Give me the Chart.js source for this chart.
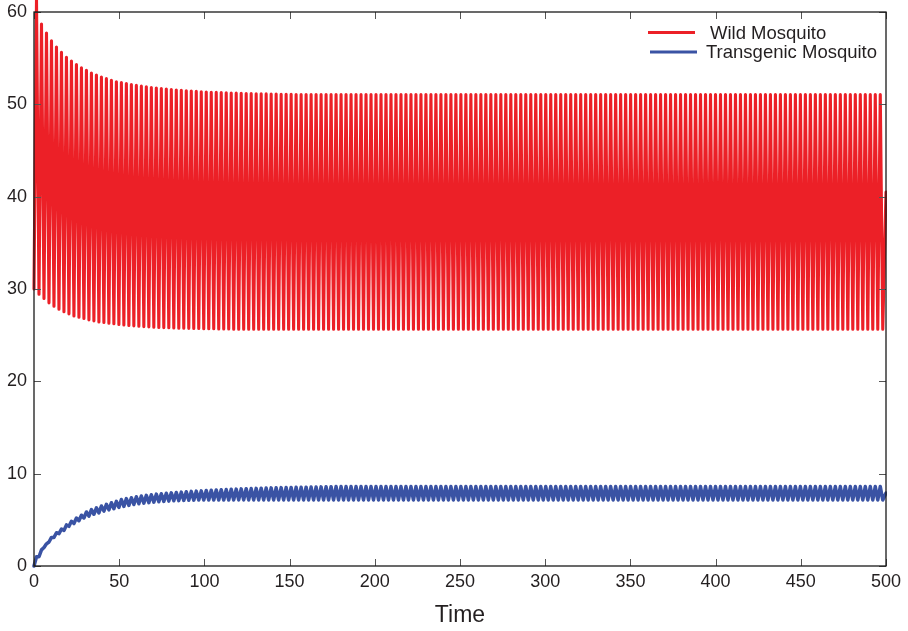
<!DOCTYPE html>
<html>
<head>
<meta charset="utf-8">
<script src="https://cdn.jsdelivr.net/npm/chart.js@4.4.0/dist/chart.umd.min.js"></script>
<style>
  html, body { margin: 0; padding: 0; background: #fff; }
  #chart { display: block; }
</style>
</head>
<body>
<canvas id="chart" width="908" height="631"></canvas>
<script>
// one oscillation cycle of the model (~170 cycles over 0..500)
const period = 2.93;

const xTicks = [0, 50, 100, 150, 200, 250, 300, 350, 400, 450, 500];
const yTicks = [0, 10, 20, 30, 40, 50, 60];

// wild mosquito: trough and peak of every cycle
const wildTroughs = [
  30.0, 29.43, 28.97, 28.5, 28.14, 27.81, 27.53, 27.31, 27.09, 26.94,
  26.8, 26.66, 26.55, 26.44, 26.37, 26.29, 26.23, 26.15, 26.1, 26.05,
  26.01, 25.97, 25.93, 25.9, 25.87, 25.84, 25.82, 25.8, 25.78, 25.76,
  25.75, 25.74, 25.73, 25.72, 25.71, 25.7, 25.69, 25.68, 25.67, 25.66,
  25.65, 25.65, 25.65, 25.65, 25.65, 25.65, 25.65, 25.65, 25.65, 25.65,
  25.65, 25.65, 25.65, 25.65, 25.65, 25.65, 25.65, 25.65, 25.65, 25.65,
  25.65, 25.65, 25.65, 25.65, 25.65, 25.65, 25.65, 25.65, 25.65, 25.65,
  25.65, 25.65, 25.65, 25.65, 25.65, 25.65, 25.65, 25.65, 25.65, 25.65,
  25.65, 25.65, 25.65, 25.65, 25.65, 25.65, 25.65, 25.65, 25.65, 25.65,
  25.65, 25.65, 25.65, 25.65, 25.65, 25.65, 25.65, 25.65, 25.65, 25.65,
  25.65, 25.65, 25.65, 25.65, 25.65, 25.65, 25.65, 25.65, 25.65, 25.65,
  25.65, 25.65, 25.65, 25.65, 25.65, 25.65, 25.65, 25.65, 25.65, 25.65,
  25.65, 25.65, 25.65, 25.65, 25.65, 25.65, 25.65, 25.65, 25.65, 25.65,
  25.65, 25.65, 25.65, 25.65, 25.65, 25.65, 25.65, 25.65, 25.65, 25.65,
  25.65, 25.65, 25.65, 25.65, 25.65, 25.65, 25.65, 25.65, 25.65, 25.65,
  25.65, 25.65, 25.65, 25.65, 25.65, 25.65, 25.65, 25.65, 25.65, 25.65,
  25.65, 25.65, 25.65, 25.65, 25.65, 25.65, 25.65, 25.65, 25.65, 25.65,
  25.65
];
const wildPeaks = [
  61.3, 58.7, 57.72, 56.89, 56.2, 55.63, 55.09, 54.69, 54.3, 53.97,
  53.68, 53.39, 53.18, 52.96, 52.78, 52.6, 52.45, 52.35, 52.25, 52.15,
  52.05, 51.97, 51.9, 51.83, 51.77, 51.71, 51.65, 51.6, 51.55, 51.51,
  51.47, 51.43, 51.4, 51.37, 51.34, 51.31, 51.29, 51.27, 51.25, 51.23,
  51.21, 51.19, 51.18, 51.16, 51.15, 51.14, 51.13, 51.12, 51.11, 51.1,
  51.09, 51.08, 51.07, 51.06, 51.05, 51.05, 51.05, 51.05, 51.05, 51.05,
  51.05, 51.05, 51.05, 51.05, 51.05, 51.05, 51.05, 51.05, 51.05, 51.05,
  51.05, 51.05, 51.05, 51.05, 51.05, 51.05, 51.05, 51.05, 51.05, 51.05,
  51.05, 51.05, 51.05, 51.05, 51.05, 51.05, 51.05, 51.05, 51.05, 51.05,
  51.05, 51.05, 51.05, 51.05, 51.05, 51.05, 51.05, 51.05, 51.05, 51.05,
  51.05, 51.05, 51.05, 51.05, 51.05, 51.05, 51.05, 51.05, 51.05, 51.05,
  51.05, 51.05, 51.05, 51.05, 51.05, 51.05, 51.05, 51.05, 51.05, 51.05,
  51.05, 51.05, 51.05, 51.05, 51.05, 51.05, 51.05, 51.05, 51.05, 51.05,
  51.05, 51.05, 51.05, 51.05, 51.05, 51.05, 51.05, 51.05, 51.05, 51.05,
  51.05, 51.05, 51.05, 51.05, 51.05, 51.05, 51.05, 51.05, 51.05, 51.05,
  51.05, 51.05, 51.05, 51.05, 51.05, 51.05, 51.05, 51.05, 51.05, 51.05,
  51.05, 51.05, 51.05, 51.05, 51.05, 51.05, 51.05, 51.05, 51.05, 51.05
];
const wildEnd = 40.5;

// transgenic mosquito: trough and peak of every cycle
const transTroughs = [
  0, 1.0, 2.0, 2.6, 3.1, 3.5, 3.85, 4.3, 4.6, 4.9,
  5.2, 5.4, 5.6, 5.75, 5.95, 6.08, 6.2, 6.35, 6.46, 6.56,
  6.66, 6.74, 6.8, 6.86, 6.92, 6.96, 7.0, 7.03, 7.06, 7.08,
  7.1, 7.12, 7.13, 7.14, 7.15, 7.15, 7.15, 7.15, 7.15, 7.15,
  7.15, 7.15, 7.15, 7.15, 7.15, 7.15, 7.15, 7.15, 7.15, 7.15,
  7.15, 7.15, 7.15, 7.15, 7.15, 7.15, 7.15, 7.15, 7.15, 7.15,
  7.15, 7.15, 7.15, 7.15, 7.15, 7.15, 7.15, 7.15, 7.15, 7.15,
  7.15, 7.15, 7.15, 7.15, 7.15, 7.15, 7.15, 7.15, 7.15, 7.15,
  7.15, 7.15, 7.15, 7.15, 7.15, 7.15, 7.15, 7.15, 7.15, 7.15,
  7.15, 7.15, 7.15, 7.15, 7.15, 7.15, 7.15, 7.15, 7.15, 7.15,
  7.15, 7.15, 7.15, 7.15, 7.15, 7.15, 7.15, 7.15, 7.15, 7.15,
  7.15, 7.15, 7.15, 7.15, 7.15, 7.15, 7.15, 7.15, 7.15, 7.15,
  7.15, 7.15, 7.15, 7.15, 7.15, 7.15, 7.15, 7.15, 7.15, 7.15,
  7.15, 7.15, 7.15, 7.15, 7.15, 7.15, 7.15, 7.15, 7.15, 7.15,
  7.15, 7.15, 7.15, 7.15, 7.15, 7.15, 7.15, 7.15, 7.15, 7.15,
  7.15, 7.15, 7.15, 7.15, 7.15, 7.15, 7.15, 7.15, 7.15, 7.15,
  7.15, 7.15, 7.15, 7.15, 7.15, 7.15, 7.15, 7.15, 7.15, 7.15,
  7.15
];
const transPeaks = [
  1.0, 1.75, 2.4, 3.1, 3.6, 4.0, 4.45, 4.85, 5.2, 5.5,
  5.85, 6.1, 6.3, 6.5, 6.68, 6.85, 7.0, 7.2, 7.3, 7.4,
  7.5, 7.58, 7.65, 7.72, 7.78, 7.83, 7.88, 7.92, 7.96, 8.0,
  8.05, 8.08, 8.11, 8.14, 8.17, 8.2, 8.23, 8.26, 8.28, 8.31,
  8.33, 8.35, 8.37, 8.39, 8.41, 8.43, 8.44, 8.46, 8.47, 8.49,
  8.5, 8.51, 8.52, 8.53, 8.54, 8.55, 8.56, 8.57, 8.58, 8.59,
  8.6, 8.6, 8.6, 8.6, 8.6, 8.6, 8.6, 8.6, 8.6, 8.6,
  8.6, 8.6, 8.6, 8.6, 8.6, 8.6, 8.6, 8.6, 8.6, 8.6,
  8.6, 8.6, 8.6, 8.6, 8.6, 8.6, 8.6, 8.6, 8.6, 8.6,
  8.6, 8.6, 8.6, 8.6, 8.6, 8.6, 8.6, 8.6, 8.6, 8.6,
  8.6, 8.6, 8.6, 8.6, 8.6, 8.6, 8.6, 8.6, 8.6, 8.6,
  8.6, 8.6, 8.6, 8.6, 8.6, 8.6, 8.6, 8.6, 8.6, 8.6,
  8.6, 8.6, 8.6, 8.6, 8.6, 8.6, 8.6, 8.6, 8.6, 8.6,
  8.6, 8.6, 8.6, 8.6, 8.6, 8.6, 8.6, 8.6, 8.6, 8.6,
  8.6, 8.6, 8.6, 8.6, 8.6, 8.6, 8.6, 8.6, 8.6, 8.6,
  8.6, 8.6, 8.6, 8.6, 8.6, 8.6, 8.6, 8.6, 8.6, 8.6,
  8.6, 8.6, 8.6, 8.6, 8.6, 8.6, 8.6, 8.6, 8.6, 8.6
];
const transEnd = 7.9;

const seriesLabels = ["Wild Mosquito", "Transgenic Mosquito"];
const seriesColors = ["#ec2027", "#3a53a4"];

const FONT = "'Liberation Sans', Arial, Helvetica, sans-serif";
const INK = "#231f20";

// trough, peak, trough, peak ... then the value at t = 500
function cyclePoints(troughs, peaks, endValue) {
    const pts = [];
    troughs.forEach((v, j) => {
        pts.push({ x: j * period, y: v });
        if (j < peaks.length) pts.push({ x: j * period + period / 2, y: peaks[j] });
    });
    pts.push({ x: 500, y: endValue });
    return pts;
}

// MATLAB style box with inward ticks on all four sides
const boxPlugin = {
    id: "box",
    afterDatasetsDraw(chart) {
        const { ctx, chartArea: a, scales: { x, y } } = chart;
        ctx.save();
        ctx.strokeStyle = "#555";
        ctx.lineWidth = 1;
        ctx.beginPath();
        xTicks.forEach(v => {
            const px = Math.round(x.getPixelForValue(v)) + 0.5;
            ctx.moveTo(px, a.bottom); ctx.lineTo(px, a.bottom - 7);
            ctx.moveTo(px, a.top); ctx.lineTo(px, a.top + 7);
        });
        yTicks.forEach(v => {
            const py = Math.round(y.getPixelForValue(v)) + 0.5;
            ctx.moveTo(a.left, py); ctx.lineTo(a.left + 7, py);
            ctx.moveTo(a.right, py); ctx.lineTo(a.right - 7, py);
        });
        ctx.stroke();
        ctx.strokeStyle = "#1a1a1a";
        ctx.lineWidth = 1.3;
        ctx.strokeRect(a.left, a.top, a.right - a.left, a.bottom - a.top);
        ctx.restore();
    },
    afterDraw(chart) {
        // legend, drawn inside the plot at the top right
        const { ctx } = chart;
        const rows = [
            { x0: 648, x1: 695, ly: 32.5, tx: 710, ty: 38.5 },
            { x0: 650, x1: 697, ly: 52, tx: 706, ty: 57.5 }
        ];
        ctx.save();
        ctx.font = "18.5px " + FONT;
        ctx.textBaseline = "alphabetic";
        ctx.textAlign = "left";
        chart.data.datasets.forEach((ds, i) => {
            const r = rows[i];
            ctx.strokeStyle = ds.borderColor;
            ctx.lineWidth = 3;
            ctx.beginPath();
            ctx.moveTo(r.x0, r.ly); ctx.lineTo(r.x1, r.ly);
            ctx.stroke();
            ctx.fillStyle = INK;
            ctx.fillText(ds.label, r.tx, r.ty);
        });
        ctx.restore();
    }
};

new Chart(document.getElementById("chart").getContext("2d"), {
    type: "line",
    data: {
        datasets: [
            {
                label: seriesLabels[0],
                data: cyclePoints(wildTroughs, wildPeaks, wildEnd),
                borderColor: seriesColors[0],
                borderWidth: 3.1,
                borderJoinStyle: "round",
                borderCapStyle: "round",
                pointRadius: 0,
                tension: 0,
                clip: { left: 2, top: 14, right: 1, bottom: 2 }
            },
            {
                label: seriesLabels[1],
                data: cyclePoints(transTroughs, transPeaks, transEnd),
                borderColor: seriesColors[1],
                borderWidth: 3.5,
                borderJoinStyle: "round",
                borderCapStyle: "round",
                pointRadius: 0,
                tension: 0,
                clip: { left: 2, top: 2, right: 1, bottom: 2 }
            }
        ]
    },
    options: {
        responsive: false,
        animation: false,
        devicePixelRatio: 1,
        parsing: false,
        normalized: true,
        layout: { padding: { top: 12, right: 22, left: 0, bottom: 0 } },
        plugins: { legend: { display: false }, tooltip: { enabled: false } },
        scales: {
            x: {
                type: "linear",
                min: 0,
                max: 500,
                afterBuildTicks: s => { s.ticks = xTicks.map(v => ({ value: v })); },
                afterFit: s => { s.height = 65; s.paddingLeft = 0; s.paddingRight = 0; },
                grid: { display: false, drawTicks: false },
                border: { display: false },
                ticks: { padding: 5, color: INK, font: { family: FONT, size: 18 }, maxRotation: 0, autoSkip: false },
                title: {
                    display: true,
                    text: "Time",
                    color: INK,
                    font: { family: FONT, size: 23, lineHeight: 1.2 },
                    padding: { top: 0, bottom: 2 }
                }
            },
            y: {
                type: "linear",
                min: 0,
                max: 60,
                afterBuildTicks: s => { s.ticks = yTicks.map(v => ({ value: v })); },
                afterFit: s => { s.width = 34; s.paddingTop = 0; s.paddingBottom = 0; },
                grid: { display: false, drawTicks: false },
                border: { display: false },
                ticks: { padding: 7, color: INK, font: { family: FONT, size: 18 }, autoSkip: false }
            }
        }
    },
    plugins: [boxPlugin]
});
</script>
</body>
</html>
